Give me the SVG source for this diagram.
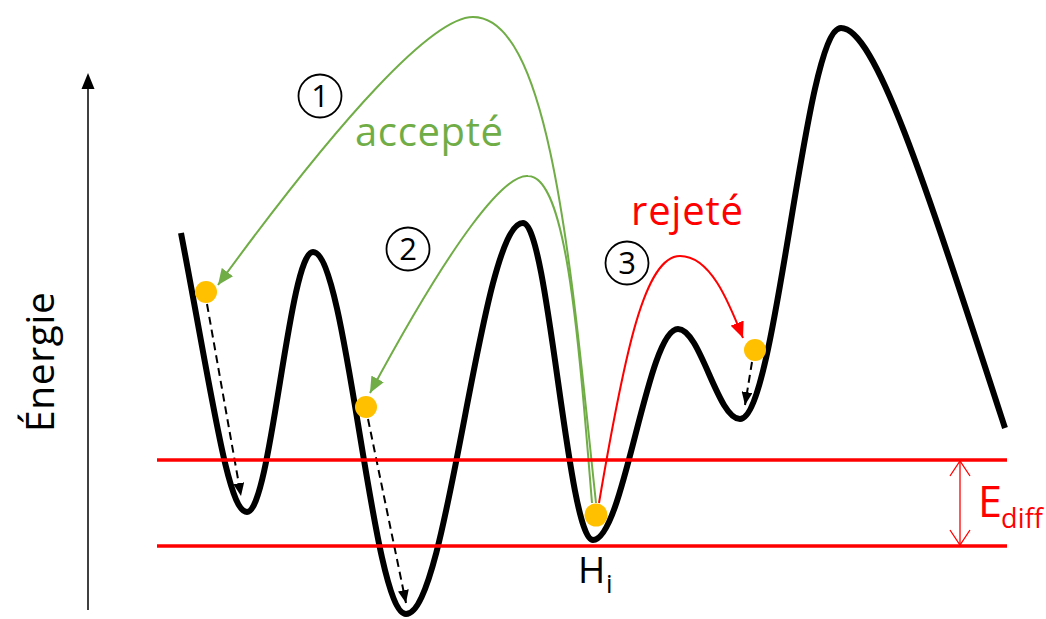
<svg xmlns="http://www.w3.org/2000/svg" width="1046" height="619" viewBox="0 0 1046 619">
<style>
.curve{fill:none;stroke:#000;stroke-width:6;stroke-linejoin:round}
.lvl{stroke:#FF0000;stroke-width:3.5}
.grn{fill:none;stroke:#70AD47;stroke-width:2}
.red{fill:none;stroke:#FF0000;stroke-width:2}
.dash{fill:none;stroke:#000;stroke-width:2;stroke-dasharray:8 5}
.dot{fill:#FFC000}
.num{fill:none;stroke:#000;stroke-width:1.8}
.t{font-family:"Open Sans","Liberation Sans",sans-serif}
.d{font-size:31px;text-anchor:middle;fill:#000}
</style>
<defs>
<marker id="mg" markerUnits="userSpaceOnUse" markerWidth="17" markerHeight="14" refX="16" refY="7" orient="auto"><path d="M0,0 L16,7 L0,14 Z" fill="#70AD47"/></marker>
<marker id="mr" markerUnits="userSpaceOnUse" markerWidth="17" markerHeight="14" refX="16" refY="7" orient="auto"><path d="M0,0 L16,7 L0,14 Z" fill="#FF0000"/></marker>
<marker id="mk" markerUnits="userSpaceOnUse" markerWidth="14" markerHeight="11" refX="13" refY="5.5" orient="auto"><path d="M0,0 L13,5.5 L0,11 Z" fill="#000"/></marker>
</defs>

<g id="axis">
<line x1="88" y1="610" x2="88" y2="86" stroke="#000" stroke-width="1.5"/>
<path d="M88,73 L81.5,89 L94.5,89 Z" fill="#000"/>
<text class="t" transform="translate(54,362) rotate(-90)" font-size="39" text-anchor="middle" textLength="140" fill="#000">Énergie</text>
</g>

<g id="landscape">
<path class="curve" d="M181,233 C213,400 228,512 247,512 C271,512 289,252 313,252 C346.8,252 372.2,614 406,614 C448.5,614 480.5,223 523,223 C548.4,223 567.6,540 593,540 C623.9,540 647.1,329 678,329 C700.5,329 717.5,419 740,419 C776.7,419 804.3,28 841,28 C875,28 923.5,178 1005,428"/>
</g>

<g id="connectors">
<path id="arrow1" class="grn" marker-end="url(#mg)" d="M596,503 C572,280 552,17 473,17 C433,17 342,115 218,285"/>
<path id="arrow2" class="grn" marker-end="url(#mg)" d="M592,503 C578,330 566,176 528,176 C505,174 455,235 370,393"/>
<path id="arrow3" class="red" marker-end="url(#mr)" d="M599,503 C625,350 645,256 680,256 C710,256 728,300 743,338"/>
<line class="dash" x1="207" y1="304" x2="241" y2="496" marker-end="url(#mk)"/>
<line class="dash" x1="368" y1="419" x2="406" y2="603" marker-end="url(#mk)"/>
<line class="dash" x1="752" y1="362" x2="745" y2="405" marker-end="url(#mk)"/>
</g>

<g id="levels">
<line class="lvl" x1="157" y1="460" x2="1007" y2="460"/>
<line class="lvl" x1="157" y1="546" x2="1007" y2="546"/>
</g>

<g id="ediff">
<line x1="960" y1="461" x2="960" y2="545" stroke="#FF0000" stroke-width="1.3"/>
<path d="M950,476 L960,461 L970,476 M950,530 L960,545 L970,530" fill="none" stroke="#FF0000" stroke-width="1.3"/>
<text class="t" x="978" y="517" font-size="43" fill="#FF0000">E</text>
<text class="t" x="1001" y="528" font-size="27" fill="#FF0000" textLength="42">diff</text>
</g>

<g id="dots">
<circle class="dot" cx="206" cy="292" r="11"/>
<circle class="dot" cx="366" cy="407" r="11"/>
<circle class="dot" cx="596" cy="515" r="11.5"/>
<circle class="dot" cx="755" cy="350" r="11"/>
</g>

<g id="step1">
<circle class="num" cx="320" cy="96" r="21.5"/>
<text class="t d" x="320" y="107">1</text>
</g>
<g id="step2">
<circle class="num" cx="408" cy="249" r="21.5"/>
<text class="t d" x="408" y="260">2</text>
</g>
<g id="step3">
<circle class="num" cx="627" cy="263" r="21.5"/>
<text class="t d" x="627" y="274">3</text>
</g>

<g id="labels">
<text class="t" x="355" y="146" font-size="40" fill="#70AD47" textLength="148">accepté</text>
<text class="t" x="631" y="225" font-size="40" fill="#FF0000" textLength="112">rejeté</text>
<text class="t" x="578" y="583" font-size="37" fill="#000">H</text>
<text class="t" x="606" y="593" font-size="26" fill="#000">i</text>
</g>
</svg>
